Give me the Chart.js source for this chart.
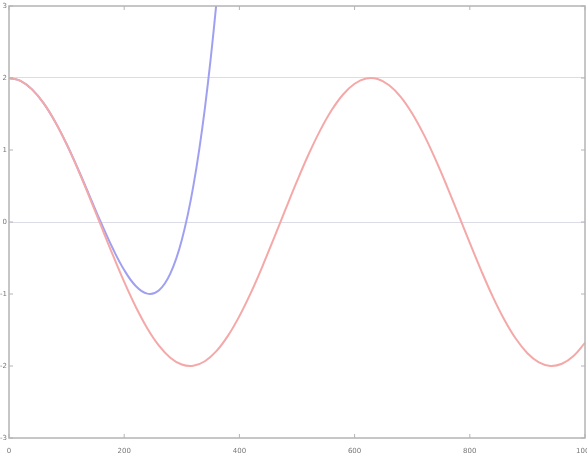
<!DOCTYPE html>
<html>
<head>
<meta charset="utf-8">
<script src="https://cdn.jsdelivr.net/npm/chart.js@4/dist/chart.umd.min.js"></script>
<style>
  html,body{margin:0;padding:0;background:#fff;}
  #wrap{width:587px;height:455px;}
</style>
</head>
<body>
<div id="wrap"><canvas id="c"></canvas></div>
<script>
/* ---------- data ---------- */
const xRed  = [0,20,40,60,80,100,120,140,160,180,200,220,240,260,280,300,320,340,360,380,
               400,420,440,460,480,500,520,540,560,580,600,620,640,660,680,700,720,740,760,780,
               800,820,840,860,880,900,920,940,960,980,1000];
const yRed  = [2.000,1.960,1.842,1.651,1.393,1.081,0.725,0.340,-0.058,-0.454,
               -0.832,-1.177,-1.475,-1.714,-1.884,-1.980,-1.997,-1.934,-1.794,-1.582,
               -1.307,-0.981,-0.615,-0.224,0.175,0.567,0.937,1.269,1.551,1.771,
               1.920,1.993,1.986,1.900,1.739,1.508,1.217,0.877,0.503,0.108,
               -0.291,-0.678,-1.039,-1.357,-1.622,-1.822,-1.950,-1.999,-1.969,-1.861,-1.678];
const xBlue = [0,20,40,60,80,100,120,140,160,180,200,220,240,260,280,300,320,340,360,380];
const yBlue = [2.000,1.960,1.842,1.651,1.394,1.083,0.733,0.360,-0.014,-0.365,
               -0.667,-0.888,-0.995,-0.952,-0.718,-0.250,0.498,1.576,3.037,4.936];
const xTicks = [0,200,400,600,800,1000];
const yTicks = [-3,-2,-1,0,1,2,3];
const gridAt = [0,2];

const pts = (xs,ys)=>xs.map((x,i)=>({x,y:ys[i]}));

/* frame + inward tick marks, like the original */
const frame = {
  id:'frame',
  afterDraw(ch){
    const {ctx,chartArea:a,scales:{x,y}} = ch;
    ctx.save();
    ctx.strokeStyle='#b4b4b4'; ctx.lineWidth=1.5;
    ctx.strokeRect(a.left,a.top,a.right-a.left,a.bottom-a.top);
    ctx.lineWidth=1;
    xTicks.forEach(v=>{
      const px=x.getPixelForValue(v);
      ctx.beginPath(); ctx.moveTo(px,a.bottom); ctx.lineTo(px,a.bottom-4);
      ctx.moveTo(px,a.top); ctx.lineTo(px,a.top+4); ctx.stroke();
    });
    yTicks.forEach(v=>{
      const py=y.getPixelForValue(v);
      ctx.beginPath(); ctx.moveTo(a.left,py); ctx.lineTo(a.left+4,py);
      ctx.moveTo(a.right,py); ctx.lineTo(a.right-4,py); ctx.stroke();
    });
    ctx.restore();
  }
};

new Chart(document.getElementById('c'),{
  type:'line',
  data:{datasets:[
    {data:pts(xRed,yRed), borderColor:'#f5a8a8', borderWidth:2,
     pointRadius:0, tension:0.4},
    {data:pts(xBlue,yBlue), borderColor:'#a0a0f2', borderWidth:2,
     pointRadius:0, tension:0.4}
  ]},
  options:{
    responsive:true, maintainAspectRatio:false, animation:false,
    layout:{padding:{top:6,right:2,left:0,bottom:0}},
    plugins:{legend:{display:false},tooltip:{enabled:false}},
    scales:{
      x:{type:'linear',min:0,max:1000,
         afterBuildTicks:s=>{s.ticks=xTicks.map(v=>({value:v}));},
         afterFit:s=>{s.height=17; s.paddingLeft=0; s.paddingRight=0;},
         border:{display:false},
         grid:{display:false},
         ticks:{color:'#777',font:{size:7,family:'DejaVu Sans'},padding:1,maxRotation:0,
                callback:v=>String(v)}},
      y:{min:-3,max:3,
         afterBuildTicks:s=>{s.ticks=yTicks.map(v=>({value:v}));},
         afterFit:s=>{s.width=9; s.paddingTop=0; s.paddingBottom=0;},
         border:{display:false},
         grid:{drawTicks:false,
               color:c=>gridAt.includes(c.tick.value)?'#dcdce6':'rgba(0,0,0,0)'},
         ticks:{color:'#777',font:{size:7,family:'DejaVu Sans'},padding:2}}
    }
  },
  plugins:[frame]
});
</script>
</body>
</html>
